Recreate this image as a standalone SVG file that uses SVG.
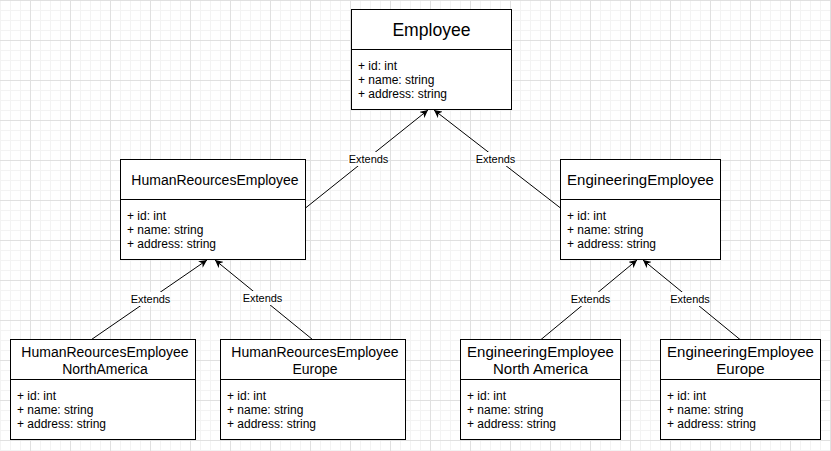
<svg xmlns="http://www.w3.org/2000/svg" width="831" height="451" viewBox="0 0 831 451">
<defs>
<pattern id="grid" x="30" y="0" width="40" height="40" patternUnits="userSpaceOnUse">
<rect width="40" height="40" fill="#ffffff"/>
<path d="M10.5 0V40M20.5 0V40M30.5 0V40M0 10.5H40M0 20.5H40M0 30.5H40" stroke="#f3f3f3" stroke-width="1" fill="none"/>
<path d="M0.5 0V40M0 0.5H40" stroke="#e0e0e0" stroke-width="1" fill="none"/>
</pattern>
<marker id="arrow" viewBox="0 0 10 10" refX="10" refY="5" markerWidth="8" markerHeight="8" markerUnits="userSpaceOnUse" orient="auto">
<path d="M0 0L10 5L0 10L3 5Z" fill="#000"/>
</marker>
<style>
.box{fill:#fff;stroke:#000;stroke-width:1}
.div{stroke:#000;stroke-width:1}
.title{font-family:"Liberation Sans",Arial,sans-serif;font-size:14px;fill:#000;text-anchor:middle}
.t15{font-size:15px}
.big{font-size:17.6px}
.attr{font-family:"Liberation Sans",Arial,sans-serif;font-size:12px;fill:#000}
.edge{stroke:#000;stroke-width:1;fill:none;marker-end:url(#arrow)}
.lblbg{fill:#fff}
.lbl{font-family:"Liberation Sans",Arial,sans-serif;font-size:11px;fill:#000;text-anchor:middle}
</style>
</defs>
<rect x="0" y="0" width="831" height="451" fill="url(#grid)"/>

<g id="connectors">
<line class="edge" x1="305.5" y1="208" x2="428" y2="110"/>
<line class="edge" x1="560.5" y1="208" x2="434" y2="110"/>
<line class="edge" x1="91.5" y1="339.5" x2="207" y2="260"/>
<line class="edge" x1="312.5" y1="339.5" x2="215" y2="260"/>
<line class="edge" x1="541" y1="339.5" x2="637" y2="260"/>
<line class="edge" x1="740" y1="339.5" x2="643" y2="260"/>
<rect class="lblbg" x="348" y="152" width="40" height="14"/>
<text class="lbl" x="368.5" y="163">Extends</text>
<rect class="lblbg" x="475.5" y="152" width="40" height="14"/>
<text class="lbl" x="495.5" y="163">Extends</text>
<rect class="lblbg" x="130.5" y="292" width="40" height="14"/>
<text class="lbl" x="150.5" y="303">Extends</text>
<rect class="lblbg" x="242.5" y="291" width="40" height="14"/>
<text class="lbl" x="262.5" y="302">Extends</text>
<rect class="lblbg" x="570.5" y="292" width="40" height="14"/>
<text class="lbl" x="590.5" y="303">Extends</text>
<rect class="lblbg" x="670" y="292" width="40" height="14"/>
<text class="lbl" x="690" y="303">Extends</text>
</g>

<g id="employee">
<rect class="box" x="351.5" y="9.5" width="160" height="100"/>
<line class="div" x1="351.5" y1="49.5" x2="511.5" y2="49.5"/>
<text class="title big" x="431.5" y="35.5">Employee</text>
<text class="attr" x="358" y="69.5">+ id: int</text>
<text class="attr" x="358" y="83.5">+ name: string</text>
<text class="attr" x="358" y="97.5">+ address: string</text>
</g>

<g id="hr">
<rect class="box" x="120.5" y="159.5" width="185" height="100"/>
<line class="div" x1="120.5" y1="199.5" x2="305.5" y2="199.5"/>
<text class="title" x="215" y="185">HumanReourcesEmployee</text>
<text class="attr" x="127" y="219.5">+ id: int</text>
<text class="attr" x="127" y="233.5">+ name: string</text>
<text class="attr" x="127" y="247.5">+ address: string</text>
</g>

<g id="eng">
<rect class="box" x="560.5" y="159.5" width="160" height="100"/>
<line class="div" x1="560.5" y1="199.5" x2="720.5" y2="199.5"/>
<text class="title t15" x="640.5" y="185">EngineeringEmployee</text>
<text class="attr" x="567" y="219.5">+ id: int</text>
<text class="attr" x="567" y="233.5">+ name: string</text>
<text class="attr" x="567" y="247.5">+ address: string</text>
</g>

<g id="hr-na">
<rect class="box" x="10.5" y="339.5" width="185" height="100"/>
<line class="div" x1="10.5" y1="379.5" x2="195.5" y2="379.5"/>
<text class="title" x="105" y="357">HumanReourcesEmployee</text>
<text class="title" x="105" y="373.5">NorthAmerica</text>
<text class="attr" x="17" y="400">+ id: int</text>
<text class="attr" x="17" y="414">+ name: string</text>
<text class="attr" x="17" y="428">+ address: string</text>
</g>

<g id="hr-eu">
<rect class="box" x="220.5" y="339.5" width="185" height="100"/>
<line class="div" x1="220.5" y1="379.5" x2="405.5" y2="379.5"/>
<text class="title" x="315" y="357">HumanReourcesEmployee</text>
<text class="title" x="315" y="373.5">Europe</text>
<text class="attr" x="227" y="400">+ id: int</text>
<text class="attr" x="227" y="414">+ name: string</text>
<text class="attr" x="227" y="428">+ address: string</text>
</g>

<g id="eng-na">
<rect class="box" x="460.5" y="339.5" width="160" height="100"/>
<line class="div" x1="460.5" y1="379.5" x2="620.5" y2="379.5"/>
<text class="title t15" x="540.5" y="357">EngineeringEmployee</text>
<text class="title t15" x="540.5" y="373.5">North America</text>
<text class="attr" x="467" y="400">+ id: int</text>
<text class="attr" x="467" y="414">+ name: string</text>
<text class="attr" x="467" y="428">+ address: string</text>
</g>

<g id="eng-eu">
<rect class="box" x="660.5" y="339.5" width="160" height="100"/>
<line class="div" x1="660.5" y1="379.5" x2="820.5" y2="379.5"/>
<text class="title t15" x="740.5" y="357">EngineeringEmployee</text>
<text class="title t15" x="740.5" y="373.5">Europe</text>
<text class="attr" x="667" y="400">+ id: int</text>
<text class="attr" x="667" y="414">+ name: string</text>
<text class="attr" x="667" y="428">+ address: string</text>
</g>
</svg>
